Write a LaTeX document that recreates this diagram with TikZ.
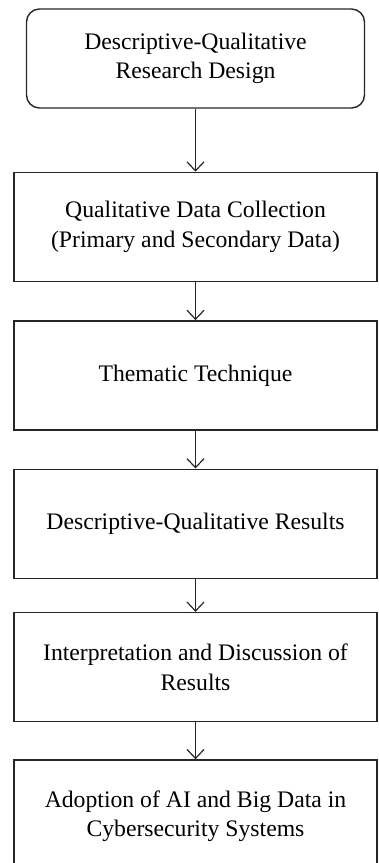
\documentclass[tikz,border=0pt]{standalone}
\usepackage{fontspec}
\setmainfont{Liberation Serif}
\usetikzlibrary{arrows.meta, positioning}

\begin{document}
\begin{tikzpicture}[
    x=1pt, y=1pt,
    node distance=38pt,
    stage/.style={rectangle, draw=black!85, line width=1.4pt, inner sep=0pt,
                  minimum width=363pt, minimum height=109pt, align=center,
                  font=\fontsize{23.7}{29.5}\selectfont},
    arrow/.style={-{Straight Barb[length=9pt,width=17pt]}, line width=1.2pt, black!85}
]
\useasboundingbox (0,0) rectangle (378,-863);

% Stages
\node[stage, rounded corners=13pt, minimum width=338pt, minimum height=99pt] (design) at (195.5,-58.5) {Descriptive-Qualitative\\Research Design};
\node[stage, below=63pt of design] (collection) {Qualitative Data Collection\\(Primary and Secondary Data)};
\node[stage, below=38pt of collection] (thematic) {Thematic Technique};
\node[stage, below=38pt of thematic] (results) {Descriptive-Qualitative Results};
\node[stage, below=33pt of results] (discussion) {Interpretation and Discussion of\\Results};
\node[stage, below=37pt of discussion, minimum height=112pt] (adoption) {Adoption of AI and Big Data in\\Cybersecurity Systems};

% Arrows
\draw[arrow] (design) -- (collection);
\draw[arrow] (collection) -- (thematic);
\draw[arrow] (thematic) -- (results);
\draw[arrow] (results) -- (discussion);
\draw[arrow] (discussion) -- (adoption);

\end{tikzpicture}
\end{document}
